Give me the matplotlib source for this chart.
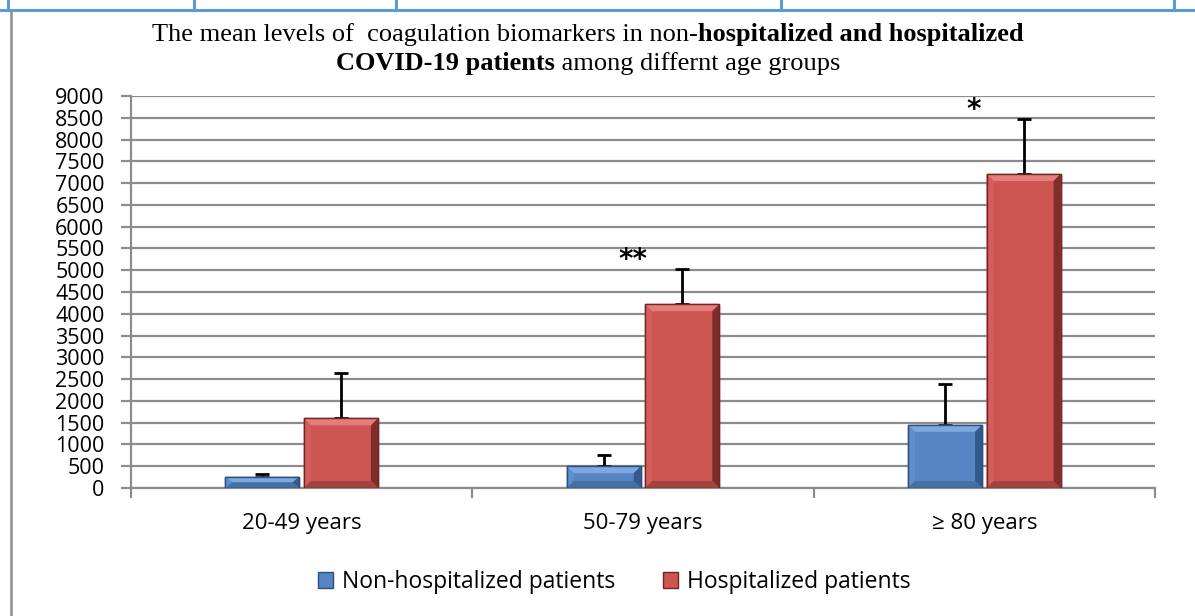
import matplotlib
matplotlib.use("Agg")
import matplotlib.pyplot as plt
import numpy as np
from matplotlib.lines import Line2D
from matplotlib.patches import Polygon

# Data
age_groups = ["20-49 years", "50-79 years", "\u2265 80 years"]
non_hosp = [260, 500, 1450]
non_hosp_err = [60, 260, 940]
hosp = [1600, 4220, 7210]
hosp_err = [1030, 810, 1260]
significance = ["", "**", "*"]
series_names = ["Non-hospitalized patients", "Hospitalized patients"]

W, H = 1195, 616
ax_l, ax_r, ax_t, ax_b = 131, 1155, 96, 488
fig = plt.figure(figsize=(W / 100, H / 100), dpi=100)
ax = fig.add_axes([ax_l / W, 1 - ax_b / H, (ax_r - ax_l) / W, (ax_b - ax_t) / H])

x = np.arange(len(age_groups))
ymax = 9000
bw = 0.217
off = 0.115
# face, edge, top bevel, left bevel, right bevel, bottom bevel
blue = ["#5585C5", "#2F4F7A", "#7EA9DF", "#5E8ECB", "#34598A", "#46709F"]
red = ["#CD5552", "#6E2725", "#E57E7B", "#D25E5B", "#7E2D2B", "#A34340"]

ax.bar(x - off, non_hosp, bw, color=blue[0], edgecolor=blue[1], linewidth=1.0,
       label=series_names[0], zorder=3)
ax.bar(x + off, hosp, bw, color=red[0], edgecolor=red[1], linewidth=1.0,
       label=series_names[1], zorder=3)

# bevel look of the bars
px_x = len(age_groups) / (ax_r - ax_l)
px_y = ymax / (ax_b - ax_t)


def bevel(xc, h, cols):
    x0, x1 = xc - bw / 2, xc + bw / 2
    b = 7
    dx = b * px_x
    dy = min(b * px_y, h / 2)
    ix0, ix1, iy0, iy1 = x0 + dx, x1 - dx, dy, h - dy
    faces = [
        ([(x0, h), (x1, h), (ix1, iy1), (ix0, iy1)], cols[2]),
        ([(x0, 0), (x0, h), (ix0, iy1), (ix0, iy0)], cols[3]),
        ([(x1, 0), (x1, h), (ix1, iy1), (ix1, iy0)], cols[4]),
        ([(x0, 0), (x1, 0), (ix1, iy0), (ix0, iy0)], cols[5]),
    ]
    for pts, c in faces:
        ax.add_patch(Polygon(pts, closed=True, facecolor=c, edgecolor="none", zorder=3.5))
    ax.add_patch(Polygon([(x0, 0), (x0, h), (x1, h), (x1, 0)], closed=True,
                         facecolor="none", edgecolor=cols[1], linewidth=1.0, zorder=3.6))


for i in range(len(age_groups)):
    bevel(x[i] - off, non_hosp[i], blue)
    bevel(x[i] + off, hosp[i], red)

ax.errorbar(x - off, non_hosp, yerr=[np.zeros(3), non_hosp_err], fmt="none",
            ecolor="black", elinewidth=2, capsize=5, capthick=2, zorder=2)
ax.errorbar(x + off, hosp, yerr=[np.zeros(3), hosp_err], fmt="none",
            ecolor="black", elinewidth=2, capsize=5, capthick=2, zorder=2)

for i, s in enumerate(significance):
    if s:
        ax.text(x[i] - 0.03, hosp[i] + hosp_err[i] + 200, s, ha="center", va="center",
                fontsize=20, fontweight="bold", family="DejaVu Sans")

ax.set_xlim(-0.5, len(age_groups) - 0.5)
ax.set_ylim(0, ymax)
ax.set_yticks(np.arange(0, ymax + 1, 500))
ax.yaxis.grid(True, color="#8c8c8c", linewidth=1.6, zorder=0)
ax.set_axisbelow(True)
for sp in ["top", "right"]:
    ax.spines[sp].set_visible(False)
for sp in ["left", "bottom"]:
    ax.spines[sp].set_color("#8c8c8c")
    ax.spines[sp].set_linewidth(1.6)

ax.set_xticks(x)
ax.set_xticklabels(age_groups, family="Open Sans", fontsize=16)
ax.tick_params(axis="x", length=0, pad=18)
ax.set_xticks(np.arange(-0.5, len(age_groups)), minor=True)
ax.tick_params(axis="x", which="minor", length=7, width=1.6, color="#8c8c8c")
ax.tick_params(axis="y", length=7, width=1.6, color="#8c8c8c", pad=12)
for lab in ax.get_yticklabels():
    lab.set_family("Open Sans")
    lab.set_fontsize(15.5)

fig.legend(loc="center", bbox_to_anchor=(614 / W, 1 - 582 / H), ncol=2, frameon=False,
           prop={"family": "Open Sans", "size": 16.5}, handlelength=0.68,
           handleheight=0.68, handletextpad=0.36, columnspacing=2.1)

# Title with mixed weight
renderer = fig.canvas.get_renderer()
title_lines = [
    [("The mean levels of  coagulation biomarkers in non-", "normal"),
     ("hospitalized and hospitalized", "bold")],
    [("COVID-19 patients", "bold"), (" among differnt age groups", "normal")],
]
baselines = [1 - 41 / H, 1 - 70 / H]
for parts, yb in zip(title_lines, baselines):
    texts = [fig.text(0, yb, s, fontweight=w, family="Liberation Serif",
                      fontsize=19, va="baseline") for s, w in parts]
    widths = [t.get_window_extent(renderer).width / W for t in texts]
    xs = 588 / W - sum(widths) / 2
    for t, wd in zip(texts, widths):
        t.set_x(xs)
        xs += wd

# Page frame
frame_blue = "#5B9BD5"
fig.add_artist(Line2D([0, 1], [1 - 10 / H] * 2, color=frame_blue, lw=2.2))
for xp in [8, 194, 396, 781, 1174]:
    fig.add_artist(Line2D([xp / W] * 2, [1 - 10 / H, 1], color=frame_blue, lw=2.2))
fig.add_artist(Line2D([11 / W] * 2, [0, 1 - 11 / H], color="#8c8c8c", lw=1.8))

fig.savefig("out.png", dpi=100)
